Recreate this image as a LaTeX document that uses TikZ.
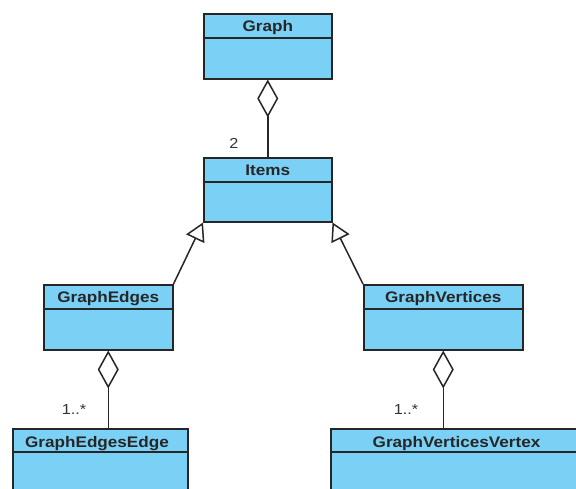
\documentclass[tikz,border=0pt]{standalone}
\usepackage{fontspec}
\setmainfont[FakeStretch=1.12]{Liberation Sans}
\usetikzlibrary{arrows.meta,calc}
\definecolor{clsfill}{HTML}{7BD0F5}
\definecolor{clsline}{HTML}{262626}
\begin{document}
\begin{tikzpicture}[x=1pt,y=-1pt,
  cls/.style={draw=clsline,fill=clsfill,line width=1.5pt,rectangle,inner sep=0pt,anchor=north west},
  ttl/.style={font=\fontsize{15.3}{17}\selectfont\bfseries,text=black!85,inner sep=0pt,anchor=base},
  mult/.style={font=\fontsize{14.5}{16}\selectfont,text=black!80,inner sep=0pt},
  conn/.style={draw=clsline,line width=1.5pt},
  agg/.style={conn,-{Diamond[open,length=38pt,width=21pt,line width=1.5pt,fill=white]}},
  gen/.style={conn,-{Triangle[open,length=18pt,width=20pt,line width=1.5pt,fill=white]}}
]
\useasboundingbox (0,0) rectangle (576,488);
\clip (0,0) rectangle (576,488);
% classes
\node[cls,minimum width=128pt,minimum height=65pt] (graph) at (203,13) {};
\node[cls,minimum width=128pt,minimum height=64pt] (items) at (203,157) {};
\node[cls,minimum width=129pt,minimum height=65pt] (edges) at (43,284) {};
\node[cls,minimum width=159pt,minimum height=65pt] (verts) at (363,284) {};
\node[cls,minimum width=175pt,minimum height=90pt] (edge) at (12,428) {};
\node[cls,minimum width=270pt,minimum height=90pt] (vert) at (330,428) {};
% header separators
\foreach \n/\h in {graph/25,items/25,edges/25,verts/25,edge/24,vert/24}{
  \draw[conn] ($(\n.north west)+(0,\h)$) -- ($(\n.north east)+(0,\h)$);
}
% titles
\node[ttl] (tgraph) at ($(graph.north)+(0,18.5)$) {Graph};
\node[ttl] (titems) at ($(items.north)+(0,18.5)$) {Items};
\node[ttl] (tedges) at ($(edges.north)+(0,18.5)$) {GraphEdges};
\node[ttl] (tverts) at ($(verts.north)+(0,18.5)$) {GraphVertices};
\node[ttl] (tedge) at (97,447) {GraphEdgesEdge};
\node[ttl] (tvert) at (456.5,447) {GraphVerticesVertex};
% aggregations
\draw[agg] (items.north) -- (graph.south);
\draw[agg] (edge.north -| edges.south) -- (edges.south);
\draw[agg] (vert.north -| verts.south) -- (verts.south);
% generalizations
\draw[gen] (edges.north east) -- (items.south west);
\draw[gen] (verts.north west) -- (items.south east);
% multiplicities
\node[mult] (m1) at (234,143) {2};
\node[mult] (m2) at (74,410) {1..*};
\node[mult] (m3) at (406,410) {1..*};
\end{tikzpicture}
\end{document}
